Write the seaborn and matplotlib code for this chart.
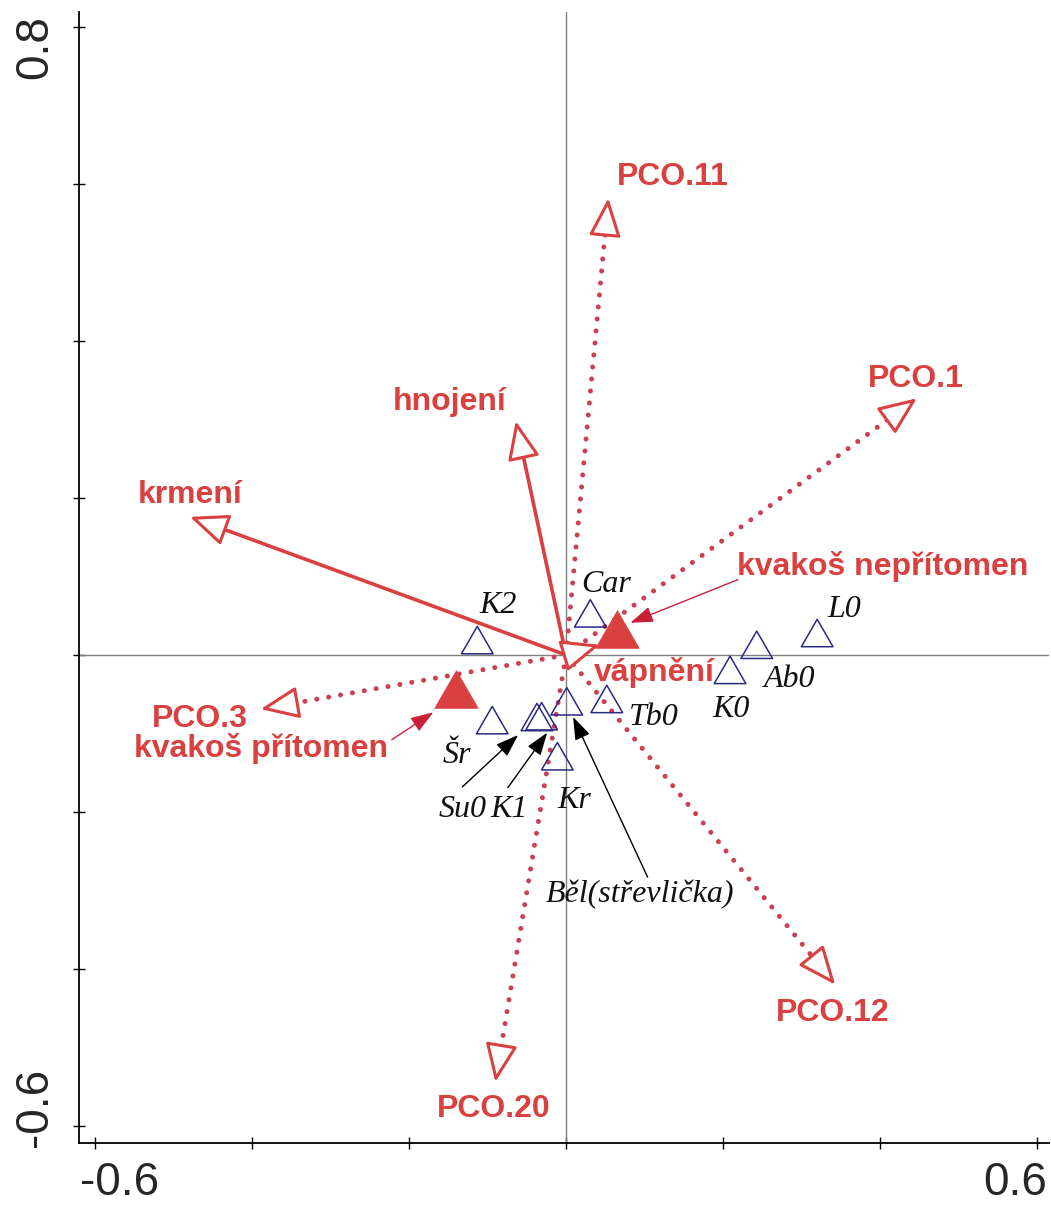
import numpy as np
import pandas as pd
import matplotlib
matplotlib.use("Agg")
import matplotlib.pyplot as plt
from matplotlib.path import Path
import seaborn as sns

# ---------------- data ----------------
site_names = ["K2", "Car", "Tb0", "Běl(střevlička)", "Šr", "Su0", "K1", "Kr", "K0", "Ab0", "L0"]
site_x = [-0.113, 0.031, 0.052, 0.001, -0.094, -0.037, -0.031, -0.011, 0.209, 0.243, 0.320]
site_y = [0.019, 0.053, -0.056, -0.059, -0.083, -0.079, -0.078, -0.129, -0.019, 0.013, 0.028]

cent_names = ["kvakoš nepřítomen", "kvakoš přítomen"]
cent_x = [0.065, -0.140]
cent_y = [0.033, -0.043]

env_names = ["krmení", "hnojení", "vápnění"]
env_x = [-0.479, -0.064, 0.043]
env_y = [0.176, 0.298, 0.013]

pco_names = ["PCO.11", "PCO.1", "PCO.3", "PCO.12", "PCO.20"]
pco_x = [0.054, 0.447, -0.389, 0.343, -0.090]
pco_y = [0.582, 0.327, -0.069, -0.420, -0.544]

# ---------------- layout (label anchors, baseline-centred) ----------------
site_label_pos = {
    "K2": (-0.087, 0.054), "Car": (0.051, 0.080), "Tb0": (0.112, -0.089),
    "Běl(střevlička)": (0.094, -0.315), "Šr": (-0.139, -0.138), "Su0": (-0.132, -0.206),
    "K1": (-0.073, -0.206), "Kr": (0.010, -0.195), "K0": (0.210, -0.079),
    "Ab0": (0.285, -0.041), "L0": (0.355, 0.048),
}
red_label_pos = {
    "PCO.11": (0.136, 0.599), "PCO.1": (0.446, 0.341), "hnojení": (-0.148, 0.312),
    "krmení": (-0.479, 0.194), "kvakoš nepřítomen": (0.403, 0.102), "vápnění": (0.113, -0.033),
    "PCO.3": (-0.466, -0.092), "kvakoš přítomen": (-0.389, -0.130),
    "PCO.12": (0.340, -0.466), "PCO.20": (-0.092, -0.589),
}
black_pointers = {  # label -> (start, tip)
    "Su0": ((-0.132, -0.168), (-0.061, -0.102)),
    "K1": ((-0.074, -0.169), (-0.024, -0.099)),
    "Běl(střevlička)": ((0.104, -0.283), (0.009, -0.079)),
}
red_pointers = {
    "kvakoš nepřítomen": ((0.219, 0.096), (0.082, 0.041)),
    "kvakoš přítomen": ((-0.222, -0.108), (-0.169, -0.073)),
}

RED = "#d9403f"
DOT = "#cc3f52"
NAVY = "#2a2a80"

sns.set_theme(style="white")
plt.rcParams["font.family"] = ["Liberation Sans", "DejaVu Sans"]

fig = plt.figure(figsize=(10.51, 12.07), dpi=100)
ax = fig.add_axes([0.07517, 0.05302, 0.9229, 0.93704])
ax.set_xlim(-0.6204, 0.6153)
ax.set_ylim(-0.6217, 0.8191)

ax.axhline(0, color="#7f7f7f", lw=1.0, zorder=1)
ax.axvline(0, color="#7f7f7f", lw=1.0, zorder=1)

HEAD_LEN = 0.042  # data units (~33 px)


def arrow(tx, ty, dotted):
    L = np.hypot(tx, ty)
    ux, uy = tx / L, ty / L
    bx, by = tx - HEAD_LEN * ux, ty - HEAD_LEN * uy
    if dotted:
        ax.plot([0, bx], [0, by], color=DOT, lw=3.6, linestyle=(0, (0.01, 2.4)),
                dash_capstyle="round", zorder=3)
    else:
        ax.plot([0, bx], [0, by], color=RED, lw=2.6, solid_capstyle="butt", zorder=3)
    ax.annotate("", xy=(tx, ty), xytext=(bx, by),
                arrowprops=dict(arrowstyle="-|>,head_length=1.19,head_width=0.5",
                                mutation_scale=20, fc="white", ec=RED, lw=2.2,
                                shrinkA=0, shrinkB=0), zorder=4)


for x, y in zip(pco_x, pco_y):
    arrow(x, y, True)
for x, y in zip(env_x, env_y):
    arrow(x, y, False)

# equilateral triangle marker (closed path)
tri = Path([(-1, -0.866), (1, -0.866), (0, 0.866), (-1, -0.866)],
           [Path.MOVETO, Path.LINETO, Path.LINETO, Path.CLOSEPOLY])

# sites: open triangles
sites = pd.DataFrame({"x": site_x, "y": site_y, "name": site_names})
sns.scatterplot(data=sites, x="x", y="y", marker=tri, s=520, ax=ax, zorder=5, legend=False)
pts = ax.collections[-1]
pts.set_facecolor("none")
pts.set_edgecolor(NAVY)
pts.set_linewidth(1.1)

# centroids: filled red triangles
cents = pd.DataFrame({"x": cent_x, "y": cent_y, "name": cent_names})
sns.scatterplot(data=cents, x="x", y="y", marker=tri, s=980, ax=ax, zorder=6, legend=False)
cp = ax.collections[-1]
cp.set_facecolor(RED)
cp.set_edgecolor(RED)
cp.set_linewidth(0.5)

# labels
for n in site_names:
    x, y = site_label_pos[n]
    ax.text(x, y, n, ha="center", va="baseline", fontsize=23, style="italic",
            family=["Liberation Serif", "DejaVu Serif"], color="#111111", zorder=7)
for n, (x, y) in red_label_pos.items():
    ax.text(x, y, n, ha="center", va="baseline", fontsize=23, fontweight="bold",
            color=RED, zorder=7)

for n, (s, t) in black_pointers.items():
    ax.annotate("", xy=t, xytext=s,
                arrowprops=dict(arrowstyle="-|>,head_length=1.0,head_width=0.35",
                                mutation_scale=14, color="black", lw=1.0,
                                shrinkA=0, shrinkB=0), zorder=8)
for n, (s, t) in red_pointers.items():
    ax.annotate("", xy=t, xytext=s,
                arrowprops=dict(arrowstyle="-|>,head_length=1.0,head_width=0.35",
                                mutation_scale=14, color="#c8203a", lw=1.0,
                                shrinkA=0, shrinkB=0), zorder=8)

# axes styling
ticks_x = [-0.6, -0.4, -0.2, 0.0, 0.2, 0.4, 0.6]
ticks_y = [-0.6, -0.4, -0.2, 0.0, 0.2, 0.4, 0.6, 0.8]
ax.set_xticks(ticks_x)
ax.set_yticks(ticks_y)
ax.set_xticklabels([])
ax.set_yticklabels([])
ax.tick_params(direction="inout", length=8, width=1.0, color="black",
               bottom=True, left=True, top=False, right=False)
for side in ["left", "bottom"]:
    ax.spines[side].set_color("black")
    ax.spines[side].set_linewidth(1.3)
for side in ["top", "right"]:
    ax.spines[side].set_visible(False)
ax.set_xlabel("")
ax.set_ylabel("")

# end tick labels (CANOCO style)
fs = 33
fig.text(80 / 1051, 1 - 1205 / 1207, "-0.6", ha="left", va="bottom", fontsize=fs)
fig.text(1047 / 1051, 1 - 1205 / 1207, "0.6", ha="right", va="bottom", fontsize=fs)
fig.text(47 / 1051, 1 - 15 / 1207, "0.8", ha="right", va="baseline", rotation=90,
         rotation_mode="anchor", fontsize=fs)
fig.text(47 / 1051, 1 - 1147 / 1207, "-0.6", ha="left", va="baseline", rotation=90,
         rotation_mode="anchor", fontsize=fs)

fig.savefig("out.png", dpi=100, facecolor="white")
